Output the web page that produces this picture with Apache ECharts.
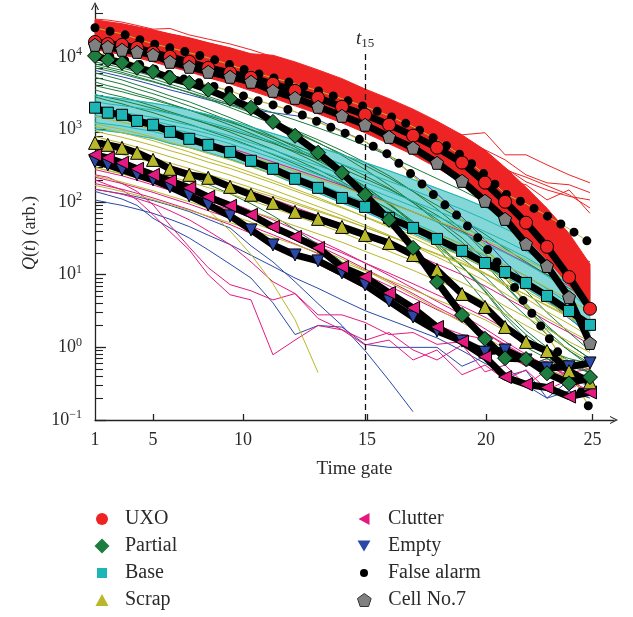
<!DOCTYPE html>
<html>
<head>
<meta charset="utf-8">
<title>Q(t) decay curves by class</title>
<script src="https://cdn.jsdelivr.net/npm/echarts@6/dist/echarts.min.js"></script>
<style>
  html, body { margin: 0; padding: 0; background: #fff; }
  #chart { width: 633px; height: 617px; }
</style>
</head>
<body>
<div id="chart"></div>
<script>
const gateTime = [0.100, 0.112, 0.127, 0.145, 0.167, 0.194, 0.230, 0.272, 0.330, 0.397,
  0.482, 0.586, 0.718, 0.887, 1.088, 1.345, 1.663, 2.055, 2.564, 3.141,
  3.750, 4.513, 5.433, 6.600, 7.943];
const xTickGates = [1, 5, 10, 15, 20, 25];
const xTickTimes = [0.1, 0.167, 0.370, 1.107, 3.17, 8.12];
const yMajorTicks = [0.1, 1, 10, 100, 1000, 10000];
const yMinorTicks = [0.2, 0.3, 0.4, 0.5, 0.6, 0.7, 0.8, 0.9, 2, 3, 4, 5, 6, 7, 8, 9,
  20, 30, 40, 50, 60, 70, 80, 90, 200, 300, 400, 500, 600, 700, 800, 900,
  2000, 3000, 4000, 5000, 6000, 7000, 8000, 9000, 20000, 30000, 40000];

// representative curves
const uxo = [16000, 15000, 14600, 13300, 11400, 10000, 8530, 7060, 6020, 5140, 4250, 3400, 2720, 2050, 1590, 1160, 820, 560, 349, 185, 101, 52, 24.2, 9.3, 3.4];
const cell7 = [14600, 13700, 12500, 11700, 10650, 8530, 7280, 6220, 5310, 4530, 3400, 2720, 2050, 1540, 1160, 790, 560, 347, 196, 104, 58.7, 26.6, 13.2, 4.9, 1.15];
const partial = [10300, 9100, 8270, 7050, 6210, 5140, 4380, 3510, 2640, 1990, 1270, 817, 477, 253, 126, 57, 23.4, 7.96, 2.79, 1.31, 0.71, 0.69, 0.44, 0.32, 0.39];
const base = [1990, 1700, 1590, 1310, 1160, 926, 742, 614, 491, 370, 287, 209, 157, 114, 85.9, 60.6, 44.1, 31.1, 21.3, 14.5, 10.9, 7.71, 5.11, 3.17, 2.04];
const scrap = [653, 614, 558, 477, 381, 287, 237, 216, 162, 126, 97.5, 73.3, 58.7, 45.5, 35.3, 27.4, 18.7, 11.6, 5.44, 3.6, 1.91, 1.19, 0.89, 0.47, 0.33];
const clutter = [447, 406, 347, 287, 237, 196, 157, 118, 88.8, 66.7, 45.5, 33.2, 23.4, 12.8, 9.33, 5.61, 3.49, 1.91, 1.19, 0.74, 0.39, 0.31, 0.28, 0.21, 0.24];
const empty = [360, 325, 278, 237, 202, 162, 122, 91.4, 64.5, 41.4, 25.7, 18.7, 15.5, 10.6, 7.24, 4.35, 2.62, 1.68, 1.22, 0.86, 0.92, 0.67, 0.52, 0.54, 0.61];
const falseAlarmHigh = [25100, 22800, 20700, 17700, 15100, 13300, 11400, 9690, 7760, 6210, 5140, 4250, 3400, 2640, 2050, 1540, 1090, 719, 433, 237, 130, 94.5, 64.6, 42.8, 27.4];
const falseAlarmLow = [11700, 10300, 9100, 8010, 6840, 5650, 4670, 4110, 3400, 2640, 2180, 1750, 1270, 927, 675, 447, 230, 114, 56.9, 24.9, 10.6, 3.84, 1.48, 0.49, 0.142];

// envelope of the dense red bundle
const redBandTop = [32400, 30400, 28500, 25900, 23500, 20700, 18300, 15600, 13300, 11000, 10500, 8500, 6600, 5000, 3600, 2650, 1900, 1300, 840, 520, 300, 160, 82, 37, 14];
const redBandBottom = [12500, 11700, 10600, 9690, 8530, 7290, 6220, 5140, 4250, 3400, 2720, 2110, 1640, 1230, 898, 634, 447, 296, 184, 107, 60.6, 32.2, 16, 7.24, 3.08];

const redLines = [
  [33000, 32000, 30000, 27000, 24000, 24500, 20000, 17500, 15000, 12500, 10000, 8200, 6000, 4600, 3400, 2400, 1590, 1060, 843, 900, 447, 447, 325, 237, 184],
  [31000, 29500, 28000, 25500, 23000, 20500, 18000, 15500, 13000, 10800, 8900, 7200, 5600, 4200, 3100, 2250, 1500, 986, 719, 524, 381, 237, 184, 173, 135],
  [30000, 28500, 27000, 24500, 22000, 19500, 17000, 14500, 12000, 10000, 8200, 6600, 5100, 3900, 2900, 2050, 1360, 870, 560, 360, 295, 190, 147, 120, 107],
  [29000, 27500, 26000, 23500, 21000, 18800, 16500, 14000, 11500, 9600, 7900, 6300, 4900, 3700, 2750, 1950, 1440, 930, 524, 295, 202, 173, 107, 147, 70],
  [28000, 26500, 25000, 22500, 20000, 18000, 15800, 13500, 11200, 9300, 7600, 6100, 4700, 3550, 2600, 1850, 1270, 790, 490, 400, 278, 220, 168, 126, 83]
];
const greenLines = [
  [8500, 7800, 7000, 6200, 5400, 4600, 3900, 3200, 2600, 2100, 1700, 1350, 1050, 800, 600, 430, 300, 210, 145, 100, 68, 46, 31, 21, 15],
  [7500, 6800, 6100, 5300, 4600, 3900, 3200, 2600, 2000, 1550, 1200, 900, 650, 460, 320, 215, 140, 90, 57, 36, 23, 15, 10, 6.5, 4.5],
  [6000, 5400, 4800, 4100, 3500, 2900, 2400, 1900, 1450, 1100, 800, 570, 390, 260, 165, 95, 50, 24, 10, 4.2, 1.9, 1.0, 0.7, 0.55, 0.45],
  [4500, 4000, 3600, 3100, 2700, 2250, 1850, 1500, 1150, 880, 660, 480, 340, 230, 150, 92, 52, 27, 13, 6, 2.8, 1.5, 0.9, 0.6, 0.5],
  [3500, 3100, 2800, 2450, 2100, 1750, 1450, 1180, 920, 700, 530, 390, 280, 190, 125, 78, 46, 25, 13, 6.5, 3.2, 1.7, 1.0, 0.65, 0.45],
  [2800, 2500, 2250, 1950, 1700, 1420, 1180, 960, 760, 590, 450, 335, 245, 175, 120, 80, 50, 30, 17, 9.5, 5, 2.7, 1.5, 0.9, 0.6],
  [5200, 4700, 4200, 3600, 3100, 2600, 2100, 1700, 1300, 980, 730, 530, 370, 250, 160, 96, 54, 28, 13, 5.8, 2.6, 1.3, 0.9, 0.7, 0.6],
  [700, 600, 520, 430, 360, 290, 230, 175, 130, 95, 65, 42, 26, 15, 8.5, 5, 3.2, 2.0, 1.3, 0.8, 1.1, 0.55, 0.7, 0.45, 0.4],
  [8000, 7200, 6500, 5700, 5000, 4200, 3500, 2850, 2250, 1750, 1300, 950, 660, 440, 280, 170, 98, 54, 28, 14, 7, 3.5, 1.9, 1.1, 0.7],
  [9500, 8500, 7600, 6600, 5700, 4800, 4000, 3200, 2450, 1800, 1200, 760, 440, 235, 115, 52, 21, 7.5, 2.6, 1.2, 0.75, 0.6, 0.45, 0.38, 0.35],
  [7000, 6400, 5800, 5100, 4500, 3850, 3250, 2700, 2150, 1700, 1300, 980, 720, 510, 350, 230, 140, 80, 42, 20, 9, 4, 2, 1.1, 0.7],
  [4000, 3650, 3300, 2900, 2550, 2200, 1850, 1550, 1250, 1000, 780, 600, 450, 330, 230, 155, 98, 58, 32, 16, 7.5, 3.5, 1.7, 0.9, 0.55],
  [3000, 2750, 2500, 2220, 1950, 1680, 1420, 1190, 980, 800, 640, 500, 385, 290, 210, 150, 102, 66, 40, 23, 12, 6, 3, 1.6, 0.9]
];
const cyanLines = [
  [3000, 2800, 2650, 2480, 2300, 2100, 1850, 1600, 1330, 1080, 880, 710, 570, 450, 350, 270, 205, 155, 115, 85, 63, 46, 32, 20, 12],
  [2410, 2250, 2130, 1990, 1840, 1655, 1455, 1256, 1040, 841, 678, 538, 427, 331, 256, 194, 146, 108, 79.4, 57.7, 42.9, 31.1, 21.4, 13.4, 7.7],
  [1930, 1815, 1720, 1590, 1470, 1305, 1145, 988, 815, 655, 523, 408, 318, 244, 187, 140, 103, 75.9, 54.8, 39.2, 29.3, 21.0, 14.3, 8.97, 4.93],
  [1730, 1631, 1548, 1424, 1314, 1158, 1017, 876, 720, 578, 460, 355, 275, 209, 160, 118, 87, 63.5, 45.5, 32.4, 24.2, 17.3, 11.7, 7.3, 3.95],
  [1550, 1465, 1385, 1275, 1175, 1028, 903, 776, 637, 510, 404, 309, 238, 179, 137, 100, 73.4, 53.1, 37.8, 26.7, 20.0, 14.2, 9.6, 6.0, 3.16],
  [1245, 1180, 1117, 1023, 938, 811, 711, 611, 499, 397, 311, 234, 178, 132, 99.8, 72.3, 52.1, 37.2, 26.1, 18.1, 13.6, 9.6, 6.4, 4.0, 2.0],
  [1000, 950, 900, 820, 750, 640, 560, 480, 390, 310, 240, 178, 133, 97, 73, 52, 37, 26, 18, 12.3, 9.3, 6.5, 4.3, 2.7, 1.3]
];
const oliveLines = [
  [1500, 1380, 1260, 1130, 1000, 860, 730, 615, 510, 415, 335, 265, 208, 162, 125, 96, 73, 55, 41, 30, 22, 16, 11.5, 8.2, 5.8],
  [1200, 1100, 1000, 890, 780, 665, 560, 465, 380, 305, 242, 190, 147, 113, 86, 65, 49, 36, 26, 19, 13.5, 9.5, 6.6, 4.5, 3.1],
  [950, 860, 780, 690, 600, 510, 430, 355, 290, 232, 183, 142, 109, 83, 63, 47, 35, 25, 18, 12.5, 8.7, 6, 4.1, 2.8, 1.9],
  [800, 720, 650, 570, 495, 420, 350, 290, 235, 188, 148, 114, 87, 65, 48, 35, 25, 17.5, 12, 8.2, 5.5, 3.7, 2.5, 1.7, 1.2],
  [550, 500, 450, 400, 350, 300, 255, 215, 178, 146, 118, 94, 74, 58, 45, 34, 26, 19.5, 14.5, 10.5, 7.5, 5.3, 3.7, 2.6, 1.8],
  [420, 380, 345, 305, 265, 225, 190, 158, 130, 105, 83, 65, 50, 38, 28.5, 21, 15.5, 11, 7.8, 5.4, 3.7, 2.6, 1.8, 1.2, 0.85],
  [300, 272, 245, 215, 187, 160, 135, 112, 92, 75, 60, 47, 36.5, 28, 21, 15.7, 11.5, 8.3, 6, 4.2, 2.9, 2, 1.4, 0.95, 0.65],
  [230, 210, 188, 165, 143, 121, 101, 83, 67, 53, 41, 31, 23, 16.5, 11.5, 7.8, 5.2, 3.4, 2.2, 1.4, 0.95, 0.7, 0.5, 0.38, 0.3],
  [300, 270, 245, 215, 185, 155, 120, 78, 40, 19, 7.5, 2.4, 0.45],
  [650, 590, 530, 465, 405, 345, 290, 240, 196, 158, 126, 99, 77, 59, 45, 34, 25.5, 19, 14, 10.2, 7.4, 5.3, 3.8, 2.7, 1.9],
  [1100, 1000, 900, 800, 700, 590, 490, 400, 322, 255, 198, 152, 115, 85, 62, 45, 32, 22.5, 15.5, 10.5, 7, 4.7, 3.1, 2.1, 1.4],
  [170, 155, 140, 124, 108, 92, 77, 64, 52, 42, 33, 26, 20, 15, 11.3, 8.4, 6.2, 4.5, 3.3, 2.4, 1.7, 1.25, 0.9, 0.65, 0.5]
];
const magentaLines = [
  [237, 220, 180, 140, 92, 48, 24, 12.5, 7.3, 6, 4.5, 5.5, 2.5, 1.75, 1.25, 1.6, 0.92, 0.67, 1.08, 0.46, 0.57, 0.3, 0.49, 0.26, 0.38],
  [202, 173, 147, 107, 67, 39, 22, 10, 5.3, 4.5, 0.79, 1.26, 2.0, 1.74, 1.08, 1.26, 0.67, 0.92, 0.42, 0.57, 0.36, 0.49, 0.26, 0.36, 0.22],
  [150, 140, 128, 112, 95, 76, 57, 40, 26, 15, 8, 5.5, 2.8, 2.8, 2.2, 1.5, 1.6, 1.1, 1.2, 0.8, 0.85, 0.55, 0.7, 0.45, 0.5],
  [400, 360, 320, 275, 235, 195, 160, 128, 100, 76, 57, 42, 30, 21, 14.5, 9.8, 6.5, 4.3, 2.8, 1.8, 1.2, 0.8, 0.55, 0.4, 0.3],
  [330, 300, 268, 232, 198, 164, 133, 106, 83, 63, 47, 34.5, 25, 17.5, 12, 8.2, 5.5, 3.6, 2.4, 1.6, 1.05, 0.72, 0.5, 0.38, 0.3],
  [280, 255, 230, 200, 172, 145, 120, 98, 78, 61, 47, 36, 27, 20, 14.5, 10.5, 7.5, 5.3, 3.7, 2.6, 1.8, 1.25, 0.85, 0.6, 0.45],
  [220, 200, 180, 158, 136, 114, 94, 76, 60, 46.5, 35.5, 26.5, 19.5, 14, 10, 7, 4.8, 3.3, 2.3, 1.6, 1.1, 0.75, 0.55, 0.42, 0.33],
  [600, 550, 495, 435, 375, 318, 265, 218, 176, 140, 110, 85, 65, 49, 36.5, 27, 19.5, 14, 10, 7, 4.9, 3.4, 2.3, 1.6, 1.1],
  [1800, 1620, 1450, 1280, 1120, 960, 810, 675, 555, 450, 358, 282, 220, 170, 130, 98, 73, 54, 39.5, 28.5, 20.5, 14.5, 10, 7, 4.8],
  [180, 165, 150, 132, 114, 96, 79, 63, 49, 37, 27, 19.5, 14, 9.5, 6.5, 4.2, 3.3, 2.0, 1.5, 1.3, 0.8, 0.55, 0.65, 0.35, 0.25]
];
const blueLines = [
  [140, 125, 110, 90, 60, 44, 32, 22, 14, 9, 4.1, 1.5, 2.0, 1.9, 1.1, 1.0, 1.0, 1.0, 0.55, 0.75, 0.4, 0.48, 0.2, 0.35, 0.3],
  [150, 140, 130, 118, 105, 90, 74, 58, 44, 25, 15, 8, 4, 2.0, 0.9, 0.35, 0.13],
  [6500, 5900, 5300, 4700, 4100, 3500, 3000, 2550, 2200, 1900, 1700, 1550, 1360, 950, 680, 420, 240, 130, 62, 30, 15, 8, 4.5, 2.5, 1.5],
  [107, 98, 90, 80, 70, 58, 46, 35, 26, 18.5, 13, 9, 6.5, 4.5, 3.2, 2.4, 1.8, 1.35, 0.9, 0.6, 0.45, 0.3, 0.2, 0.25, 0.2]
];

const FONT = '"Liberation Serif", "DejaVu Serif", serif';
const TXT = '#2a2a2a';
const RED = '#ee2424', GREEN = '#1c7d3e', CYAN = '#1db6b6', OLIVE = '#b8b82a',
  MAGENTA = '#e3197f', BLUE = '#2b48a8', GRAY = '#808080';
const PENTAGON = 'path://M50,0L97.6,34.5L79.4,90.5L20.6,90.5L2.4,34.5Z';
const CHEVRON = 'path://M0,10L5,0L10,10L8.6,10L5,2.8L1.4,10Z';

function pts(vals) {
  return vals.map((v, i) => [gateTime[i], v]);
}

const series = [];

function thin(vals, color, z) {
  return {
    type: 'line', data: pts(vals), symbol: 'none', silent: true, z: z || 1,
    lineStyle: { color: color, width: 1 }
  };
}

function band(top, bottom, color, opacity, z) {
  return {
    type: 'custom', coordinateSystem: 'cartesian2d', silent: true, z: z,
    data: [[gateTime[0], bottom[0]]],
    renderItem: function (params, api) {
      const poly = [];
      gateTime.forEach((t, i) => poly.push(api.coord([t, top[i]])));
      for (let i = gateTime.length - 1; i >= 0; i--) poly.push(api.coord([gateTime[i], bottom[i]]));
      return {
        type: 'polygon', shape: { points: poly },
        style: { fill: color, stroke: color, lineWidth: 1, opacity: opacity }
      };
    }
  };
}

blueLines.forEach(v => series.push(thin(v, BLUE)));
magentaLines.forEach(v => series.push(thin(v, MAGENTA)));
greenLines.forEach(v => series.push(thin(v, GREEN)));
series.push(band(cyanLines[0], cyanLines[cyanLines.length - 1], CYAN, 0.55, 1));
cyanLines.forEach(v => series.push(thin(v, CYAN)));
oliveLines.forEach(v => series.push(thin(v, OLIVE)));
series.push(band(redBandTop, redBandBottom, RED, 1, 2));
redLines.forEach(v => series.push(thin(v, RED, 2)));

// olive traces under the false-alarm dots, t15 marker rides on the first
series.push({
  type: 'line', data: pts(falseAlarmLow), symbol: 'none', silent: true, z: 2,
  lineStyle: { color: OLIVE, width: 1.2 },
  markLine: {
    silent: true, symbol: 'none',
    lineStyle: { color: '#111', width: 1.3, type: [6, 4] },
    label: {
      show: true, position: 'end', distance: 4, formatter: '{i|t}{s|15}',
      rich: {
        i: { fontFamily: FONT, fontStyle: 'italic', fontSize: 19, color: TXT, lineHeight: 22 },
        s: { fontFamily: FONT, fontSize: 13, color: TXT, lineHeight: 13, verticalAlign: 'bottom' }
      }
    },
    data: [[{ coord: [gateTime[14], 0.1] }, { coord: [gateTime[14], 11000] }]]
  }
});
series.push(thin(falseAlarmHigh, OLIVE, 2));

const classes = [
  { name: 'Empty', values: empty, symbol: 'triangle', rotate: 180, size: 12, color: BLUE },
  { name: 'Clutter', values: clutter, symbol: 'triangle', rotate: 90, size: 13, color: MAGENTA },
  { name: 'Scrap', values: scrap, symbol: 'triangle', rotate: 0, size: 13, color: OLIVE },
  { name: 'Base', values: base, symbol: 'rect', rotate: 0, size: 11, color: CYAN },
  { name: 'Partial', values: partial, symbol: 'diamond', rotate: 0, size: 15, color: GREEN },
  { name: 'UXO', values: uxo, symbol: 'circle', rotate: 0, size: 13, color: RED },
  { name: 'Cell No.7', values: cell7, symbol: PENTAGON, rotate: 0, size: 13, color: GRAY }
];

classes.forEach(c => series.push({
  type: 'line', data: pts(c.values), symbol: 'none', silent: true, z: 3,
  lineStyle: { color: '#000', width: 7, join: 'round' }
}));

[falseAlarmHigh, falseAlarmLow].forEach(v => series.push({
  name: 'False alarm', type: 'line', data: pts(v), symbol: 'none', silent: true, z: 4,
  itemStyle: { color: '#000' },
  lineStyle: { color: '#000', width: 9, type: [0, 15.5], cap: 'round' }
}));

classes.forEach(c => series.push({
  name: c.name, type: 'line', data: pts(c.values), z: 5, silent: true,
  symbol: c.symbol, symbolSize: c.size, symbolRotate: c.rotate, showAllSymbol: true,
  itemStyle: { color: c.color, borderColor: '#000', borderWidth: 1 },
  lineStyle: { width: 0, opacity: 0 }
}));

// legend, one component per entry
const legendItems = [
  { name: 'UXO', icon: 'circle', w: 12, h: 12, color: RED, col: 0, row: 0 },
  { name: 'Partial', icon: 'diamond', w: 15, h: 15, color: GREEN, col: 0, row: 1 },
  { name: 'Base', icon: 'rect', w: 10, h: 10, color: CYAN, col: 0, row: 2 },
  { name: 'Scrap', icon: 'triangle', w: 13, h: 12, color: OLIVE, col: 0, row: 3 },
  { name: 'Clutter', icon: 'path://M0,6L11,0L11,12Z', w: 11, h: 12, color: MAGENTA, col: 1, row: 0 },
  { name: 'Empty', icon: 'path://M0,0L13,0L6.5,11Z', w: 13, h: 11, color: BLUE, col: 1, row: 1 },
  { name: 'False alarm', icon: 'circle', w: 8, h: 8, color: '#000', col: 1, row: 2 },
  { name: 'Cell No.7', icon: PENTAGON, w: 14, h: 13, color: GRAY, border: '#333', col: 1, row: 3 }
];
const legendIconX = [102, 364];
const legendTextX = [125, 388];
const legendRowY = [519, 546, 573, 600];

const legends = legendItems.map(it => {
  const left = legendIconX[it.col] - it.w / 2;
  return {
    left: left, top: legendRowY[it.row] - 11, padding: 0,
    itemWidth: it.w, itemHeight: it.h, selectedMode: false,
    data: [{
      name: it.name, icon: it.icon,
      itemStyle: { color: it.color, borderColor: it.border || it.color, borderWidth: it.border ? 1 : 0 }
    }],
    textStyle: {
      fontFamily: FONT, fontSize: 20, color: TXT, lineHeight: 22,
      padding: [0, 0, 0, legendTextX[it.col] - left - it.w - 5]
    }
  };
});

function yLabel(v) {
  const n = Math.round(Math.log10(v));
  return '{b|10}{s|' + (n < 0 ? '\u2212' + (-n) : n) + '}';
}
function xLabel(v) {
  const i = xTickTimes.findIndex(t => Math.abs(t - v) / t < 1e-3);
  return i >= 0 ? String(xTickGates[i]) : '';
}

const option = {
  animation: false,
  backgroundColor: '#fff',
  grid: { left: 95, right: 19, top: 6, bottom: 197 },
  legend: legends,
  xAxis: {
    type: 'log', min: 0.1, max: 9.82,
    name: 'Time gate', nameLocation: 'middle', nameGap: 40,
    nameTextStyle: { fontFamily: FONT, fontSize: 19, color: TXT },
    axisLine: {
      lineStyle: { color: '#222', width: 1.3 },
      symbol: ['none', CHEVRON], symbolSize: [11, 8]
    },
    axisTick: {
      inside: true, length: 6, customValues: xTickTimes.slice(1),
      lineStyle: { color: '#222', width: 1.3 }
    },
    axisLabel: {
      customValues: xTickTimes, formatter: xLabel, margin: 11,
      fontFamily: FONT, fontSize: 18, color: TXT
    },
    splitLine: { show: false }
  },
  yAxis: [{
    type: 'log', min: 0.1, max: 50000, position: 'left',
    name: '{i|Q}({i|t}) (arb.)', nameLocation: 'middle', nameGap: 56, nameRotate: 90,
    nameTextStyle: {
      fontFamily: FONT, fontSize: 18, color: TXT, padding: [0, 40, 0, 0],
      rich: { i: { fontFamily: FONT, fontSize: 18, fontStyle: 'italic', color: TXT } }
    },
    axisLine: {
      show: true, lineStyle: { color: '#222', width: 1.3 },
      symbol: ['none', CHEVRON], symbolSize: [11, 8]
    },
    axisTick: {
      inside: true, length: 11, customValues: yMajorTicks,
      lineStyle: { color: '#222', width: 1.3 }
    },
    axisLabel: {
      customValues: yMajorTicks, formatter: yLabel, margin: 13,
      rich: {
        b: { fontFamily: FONT, fontSize: 18, color: TXT, lineHeight: 22 },
        s: { fontFamily: FONT, fontSize: 12, color: TXT, lineHeight: 12, verticalAlign: 'top' }
      }
    },
    splitLine: { show: false }
  }, {
    type: 'log', min: 0.1, max: 50000, position: 'left', offset: 0,
    axisLine: { show: false },
    axisTick: {
      inside: true, length: 8, customValues: yMinorTicks,
      lineStyle: { color: '#222', width: 1.1 }
    },
    axisLabel: { show: false },
    splitLine: { show: false }
  }],
  series: series
};

const chart = echarts.init(document.getElementById('chart'));
chart.setOption(option);
</script>
</body>
</html>
